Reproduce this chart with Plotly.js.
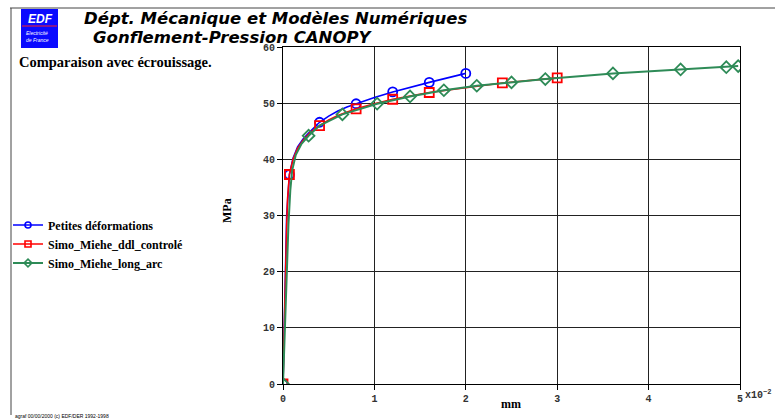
<!DOCTYPE html>
<html>
<head>
<meta charset="utf-8">
<script src="https://cdn.plot.ly/plotly-3.0.1.min.js"></script>
<style>
html,body{margin:0;padding:0;background:#ffffff;}
#plot{width:775px;height:419px;}
</style>
</head>
<body>
<div id="plot"></div>
<script>
// ---- Data (x in mm, y in MPa) ----
const seriesNames = ["Petites déformations", "Simo_Miehe_ddl_controlé", "Simo_Miehe_long_arc"];

// Petites déformations : courbe
const petitesX = [0, 0.0004, 0.0007, 0.0011, 0.0016, 0.0022, 0.0028, 0.0034, 0.0040, 0.0050, 0.0060, 0.0070, 0.0080, 0.0100, 0.0120, 0.0140, 0.0160, 0.0180, 0.0200];
const petitesY = [0, 30.0, 37.3, 40.2, 42.2, 43.6, 44.7, 45.7, 46.6, 47.7, 48.6, 49.3, 49.9, 51.0, 52.0, 52.9, 53.7, 54.5, 55.3];
// Petites déformations : marqueurs
const petitesMarkX = [0, 0.0007, 0.0040, 0.0080, 0.0120, 0.0160, 0.0200];
const petitesMarkY = [0, 37.3, 46.6, 49.9, 52.0, 53.7, 55.3];

// Simo_Miehe_ddl_controlé : courbe
const ddlX = [0, 0.0002, 0.0004, 0.0005, 0.0007, 0.0011, 0.0016, 0.0022, 0.0030, 0.0040, 0.0050, 0.0060, 0.0080, 0.0100, 0.0120, 0.0160, 0.0200, 0.0240, 0.0300];
const ddlY = [0, 16.0, 28.0, 33.0, 37.3, 40.0, 42.0, 43.4, 44.8, 46.0, 47.0, 47.8, 49.0, 49.9, 50.7, 51.9, 52.8, 53.6, 54.5];
// Simo_Miehe_ddl_controlé : marqueurs
const ddlMarkX = [0, 0.0007, 0.0040, 0.0080, 0.0120, 0.0160, 0.0240, 0.0300];
const ddlMarkY = [0, 37.3, 46.0, 49.0, 50.7, 51.9, 53.6, 54.5];

// Simo_Miehe_long_arc : courbe
const arcX = [0, 0.0002, 0.0004, 0.0006, 0.0008, 0.0010, 0.0014, 0.0020, 0.0028, 0.0040, 0.0065, 0.0103, 0.0139, 0.0176, 0.0212, 0.0250, 0.0287, 0.0361, 0.0435, 0.0485, 0.0498];
const arcY = [0, 10.0, 20.0, 28.5, 34.5, 38.0, 40.8, 42.7, 44.2, 46.0, 48.0, 49.9, 51.2, 52.3, 53.1, 53.7, 54.3, 55.3, 56.0, 56.4, 56.6];
// Simo_Miehe_long_arc : marqueurs
const arcMarkX = [0, 0.0028, 0.0065, 0.0103, 0.0139, 0.0176, 0.0212, 0.0250, 0.0287, 0.0361, 0.0435, 0.0485, 0.0498];
const arcMarkY = [0, 44.2, 48.0, 49.9, 51.2, 52.3, 53.1, 53.7, 54.3, 55.3, 56.0, 56.4, 56.6];

// Axes
const xTickVals = [0, 0.01, 0.02, 0.03, 0.04, 0.05];
const xTickText = ["0", "1", "2", "3", "4", "5"];
const yTickVals = [0, 10, 20, 30, 40, 50, 60];

// ---- Styles ----
const colors = ["#0000ff", "#ff0000", "#2e8b57"];
const symbols = ["circle-open", "square-open", "diamond-open"];
const widths = [1.6, 1.6, 2];

const lines = [[petitesX, petitesY], [ddlX, ddlY], [arcX, arcY]];
const marks = [[petitesMarkX, petitesMarkY], [ddlMarkX, ddlMarkY], [arcMarkX, arcMarkY]];

const traces = [];
for (let i = 0; i < 3; i++) {
  traces.push({
    type: "scatter", mode: "lines", x: lines[i][0], y: lines[i][1],
    line: {color: colors[i], width: widths[i]}, showlegend: false,
    legendgroup: "g" + i, hoverinfo: "skip"
  });
  traces.push({
    type: "scatter", mode: "markers", x: marks[i][0], y: marks[i][1],
    marker: {symbol: symbols[i], size: 9, color: colors[i], line: {color: colors[i], width: 1.8}},
    showlegend: false, legendgroup: "g" + i, cliponaxis: true
  });
  // legend entry (no data drawn)
  traces.push({
    type: "scatter", mode: "lines+markers", x: [null], y: [null], name: seriesNames[i],
    line: {color: colors[i], width: widths[i]},
    marker: {symbol: symbols[i], size: 6, color: colors[i], line: {color: colors[i], width: 1.6}},
    legendgroup: "g" + i, showlegend: true
  });
}

// pixel -> paper helpers (plot area 283..740 x 47..384)
const L = 283, R = 740, T = 47, B = 384;
const px = v => (v - L) / (R - L);
const py = v => (B - v) / (B - T);

const serif = "Liberation Serif, Times New Roman, serif";
const sans = "Liberation Sans, Arial, sans-serif";
const wide = "DejaVu Sans, Liberation Sans, sans-serif";
const mono = "Liberation Mono, Courier New, monospace";

const layout = {
  width: 775, height: 419,
  margin: {l: L, r: 775 - R, t: T, b: 419 - B, pad: 0},
  paper_bgcolor: "#ffffff", plot_bgcolor: "#ffffff",
  showlegend: true,
  legend: {
    xref: "container", yref: "container", x: 8 / 775, y: 1 - 244 / 419,
    xanchor: "left", yanchor: "middle",
    font: {family: serif, size: 12, color: "#000", weight: "bold"},
    bgcolor: "rgba(0,0,0,0)", borderwidth: 0, itemwidth: 30, tracegroupgap: 0
  },
  xaxis: {
    range: [0, 0.05], tickvals: xTickVals, ticktext: xTickText,
    showgrid: true, gridcolor: "#222", gridwidth: 1,
    zeroline: false, showline: true, linecolor: "#000", linewidth: 1, mirror: true,
    ticks: "outside", ticklen: 5, tickcolor: "#000",
    tickfont: {family: mono, size: 10, color: "#333", weight: "bold"}
  },
  yaxis: {
    range: [0, 60], tickvals: yTickVals,
    showgrid: true, gridcolor: "#222", gridwidth: 1,
    zeroline: false, showline: true, linecolor: "#000", linewidth: 1, mirror: true,
    ticks: "outside", ticklen: 5, tickcolor: "#000",
    tickfont: {family: mono, size: 10, color: "#333", weight: "bold"}
  },
  shapes: [
    // outer frame (top and left)
    {type: "line", xref: "paper", yref: "paper", x0: px(10), x1: px(775), y0: py(8), y1: py(8), line: {color: "#444", width: 1}},
    {type: "line", xref: "paper", yref: "paper", x0: px(11), x1: px(11), y0: py(8), y1: py(415), line: {color: "#444", width: 1}},
    // EDF logo
    {type: "rect", xref: "paper", yref: "paper", x0: px(21), x1: px(58), y0: py(9), y1: py(48), fillcolor: "#0a0aff", line: {width: 0}},
    {type: "line", xref: "paper", yref: "paper", x0: px(22), x1: px(57), y0: py(26), y1: py(26), line: {color: "#ff2020", width: 1}}
  ],
  annotations: [
    {xref: "paper", yref: "paper", x: px(40), y: py(19), text: "<b><i>EDF</i></b>", showarrow: false,
     font: {family: sans, size: 12, color: "#ffffff"}, xanchor: "center", yanchor: "middle"},
    {xref: "paper", yref: "paper", x: px(24), y: py(36), text: "<i>Electricité<br>de France</i>", showarrow: false,
     font: {family: sans, size: 5, color: "#ffffff"}, xanchor: "left", yanchor: "middle", align: "left"},
    {xref: "paper", yref: "paper", x: px(82), y: py(18), text: "<b><i>Dépt. Mécanique et Modèles Numériques</i></b>", showarrow: false,
     font: {family: wide, size: 16.5, color: "#000"}, xanchor: "left", yanchor: "middle"},
    {xref: "paper", yref: "paper", x: px(91), y: py(37), text: "<b><i>Gonflement-Pression CANOPY</i></b>", showarrow: false,
     font: {family: wide, size: 16.5, color: "#000"}, xanchor: "left", yanchor: "middle"},
    {xref: "paper", yref: "paper", x: px(17), y: py(62), text: "<b>Comparaison avec écrouissage.</b>", showarrow: false,
     font: {family: serif, size: 14.5, color: "#000"}, xanchor: "left", yanchor: "middle"},
    {xref: "paper", yref: "paper", x: px(227), y: py(211), text: "<b>MPa</b>", showarrow: false, textangle: -90,
     font: {family: serif, size: 12, color: "#000"}, xanchor: "center", yanchor: "middle"},
    {xref: "paper", yref: "paper", x: px(511), y: py(404), text: "<b>mm</b>", showarrow: false,
     font: {family: serif, size: 12, color: "#000"}, xanchor: "center", yanchor: "middle"},
    {xref: "paper", yref: "paper", x: px(743), y: py(395), text: "<b>x10<sup>−2</sup></b>", showarrow: false,
     font: {family: mono, size: 10, color: "#333"}, xanchor: "left", yanchor: "middle"},
    {xref: "paper", yref: "paper", x: px(13), y: py(416), text: "agraf 00/00/2000 (c) EDF/DER 1992-1998", showarrow: false,
     font: {family: sans, size: 5, color: "#000"}, xanchor: "left", yanchor: "middle"}
  ]
};

Plotly.newPlot("plot", traces, layout, {displayModeBar: false, staticPlot: true});
</script>
</body>
</html>
